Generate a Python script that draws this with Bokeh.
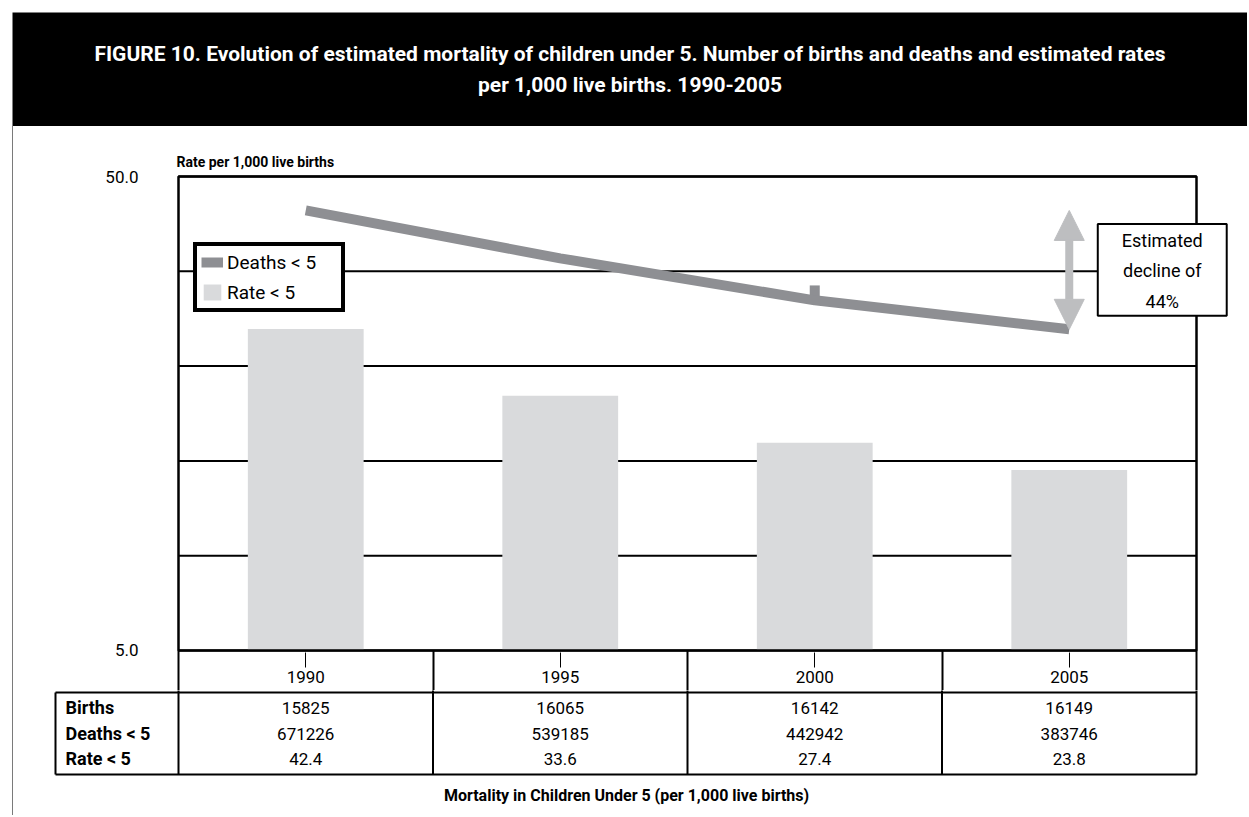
from bokeh.plotting import figure
from bokeh.models import (Range1d, LinearScale, FixedTicker, PrintfTickFormatter,
                          Legend, LegendItem, Arrow, NormalHead, Label, ColumnDataSource, Title)
from bokeh.layouts import column
from bokeh.embed import file_html
from bokeh.resources import INLINE
from bokeh.core.properties import value

# ---------------- data ----------------
years = ["1990", "1995", "2000", "2005"]
births = [15825, 16065, 16142, 16149]
deaths = [671226, 539185, 442942, 383746]
rates = [42.4, 33.6, 27.4, 23.8]
marker_years = ["2000"]
marker_rates = [27.4]
y_tick_values = [5.0, 50.0]
grid_values = [5.0, 7.92, 12.56, 19.91, 31.55, 50.0]
row_labels = ["Births", "Deaths < 5", "Rate < 5"]
title_text = ("FIGURE 10. Evolution of estimated mortality of children under 5. Number of births and deaths and estimated rates\n"
              "per 1,000 live births. 1990-2005")
axis_title = "Rate per 1,000 live births"
decline_text = "Estimated\ndecline of\n44%"
caption = "Mortality in Children Under 5 (per 1,000 live births)"
legend_line = "Deaths < 5"
legend_bar = "Rate < 5"

# ---------------- style ----------------
FONT = "Roboto"
W = 1247
LINE_C = "#8e8f93"
BAR_C = "#d9dadc"
ARROW_C = "#bdbec0"

n = len(years)
centers = [years.index(y) + 0.5 for y in years]      # category centres on the x scale
bounds = list(range(n + 1))                           # category boundaries
PX = 1 / 254.5                                        # x units per pixel

# ---------------- banner ----------------
head = figure(width=W, height=126, x_range=Range1d(0, 1), y_range=Range1d(0, 1),
              output_backend="svg", toolbar_location=None, frame_align=False,
              min_border_left=12, min_border_right=0, min_border_top=12, min_border_bottom=0)
head.axis.visible = False
head.grid.visible = False
head.outline_line_color = None
head.background_fill_color = "black"
head.add_layout(Label(x=0.5, y=0.5, text=title_text, text_align="center", text_baseline="middle",
                      text_color="white", text_font=FONT, text_font_style="bold",
                      text_font_size="21px", text_line_height=1.33))

# ---------------- chart ----------------
CW = W - 13
p = figure(width=CW, height=564, x_range=Range1d(-2 * PX, n + 44 * PX),
           y_range=Range1d(4.951, 50.49), y_axis_type="log",
           output_backend="svg", toolbar_location=None, frame_align=False,
           min_border_left=163, min_border_right=7, min_border_top=48, min_border_bottom=38)
p.extra_y_ranges = {"bars": Range1d(-0.264, 62.76)}
p.extra_y_scales = {"bars": LinearScale()}
p.grid.visible = False
p.outline_line_color = None

src = ColumnDataSource(dict(x=centers, year=years, rate=rates, deaths=deaths, births=births))

# horizontal grid lines across the plot box
p.segment(x0=[0] * len(grid_values), x1=[n] * len(grid_values), y0=grid_values, y1=grid_values,
          line_color="black", line_width=2)
bars = p.vbar(x="x", top="rate", bottom=0, width=0.455, source=src, y_range_name="bars",
              fill_color=BAR_C, line_color=None)
mk_x = [centers[years.index(y)] for y in marker_years]
p.quad(left=[x - 5 * PX for x in mk_x], right=[x + 5 * PX for x in mk_x],
       bottom=marker_rates, top=[r * 1.075 for r in marker_rates],
       fill_color=LINE_C, line_color=None)
line = p.line(x="x", y="rate", source=src, line_width=10, line_color=LINE_C)
p.quad(left=[0], right=[n], bottom=[y_tick_values[0]], top=[y_tick_values[-1]],
       fill_color=None, line_color="black", line_width=2.5)

# y axis
p.yaxis.ticker = FixedTicker(ticks=y_tick_values, minor_ticks=[])
p.yaxis.formatter = PrintfTickFormatter(format="%.1f")
p.yaxis.major_tick_line_color = None
p.yaxis.minor_tick_line_color = None
p.yaxis.axis_line_color = None
p.yaxis.major_label_standoff = 32
p.yaxis.major_label_text_font = FONT
p.yaxis.major_label_text_font_size = "17px"
p.yaxis.major_label_text_color = "black"

# x axis: year labels, centre ticks, and cell dividers (minor ticks)
p.xaxis.ticker = FixedTicker(ticks=centers, minor_ticks=bounds)
p.xaxis.major_label_overrides = {c: y for c, y in zip(centers, years)}
p.xaxis.axis_line_color = None
p.xaxis.major_tick_out = 15
p.xaxis.major_tick_in = 0
p.xaxis.major_tick_line_color = "black"
p.xaxis.major_tick_line_width = 1
p.xaxis.minor_tick_out = 38
p.xaxis.minor_tick_in = 2
p.xaxis.minor_tick_line_color = "black"
p.xaxis.minor_tick_line_width = 2
p.xaxis.major_label_standoff = -20
p.xaxis.major_label_text_font = FONT
p.xaxis.major_label_text_font_size = "17px"
p.xaxis.major_label_text_color = "black"

p.title.text = axis_title
p.title.align = "left"
p.title.text_font = FONT
p.title.text_font_style = "bold"
p.title.text_font_size = "14px"
p.title.text_color = "black"

legend = Legend(items=[LegendItem(label=legend_line, renderers=[line]),
                       LegendItem(label=legend_bar, renderers=[bars])],
                location=(17, 340), border_line_color="black", border_line_width=4,
                border_line_alpha=1.0,
                padding=4, spacing=6, margin=0, glyph_width=22, glyph_height=20,
                label_height=24, label_width=110, label_standoff=4,
                label_text_font=FONT, label_text_font_size="19px", label_text_color="black",
                background_fill_alpha=1.0)
p.add_layout(legend)

last_x = centers[-1]
arr_src = ColumnDataSource(dict(x=[last_x], y0=[rates[0]], y1=[rates[-1]]))
p.add_layout(Arrow(x_start="x", y_start="y0", x_end="x", y_end="y1", source=arr_src,
                   start=NormalHead(size=30, fill_color=ARROW_C, line_color=ARROW_C),
                   end=NormalHead(size=30, fill_color=ARROW_C, line_color=ARROW_C),
                   line_width=8, line_color=ARROW_C))

p.add_layout(Label(x=last_x, y=(rates[0] * rates[-1]) ** 0.5, x_offset=93,
                   text=decline_text, text_align="center", text_baseline="middle",
                   text_font=FONT, text_font_size="18px", text_line_height=1.45,
                   text_color="black",
                   border_line_color="black", border_line_width=2,
                   background_fill_color="white",
                   padding=dict(left=24, right=24, top=6, bottom=4)))

# ---------------- table ----------------
L = 123 * PX   # width of the row-label column
tbl = figure(width=CW, height=125, x_range=Range1d(-0.50295, n + 0.02358),
             y_range=Range1d(-0.146, 3.073), output_backend="svg", toolbar_location=None,
             frame_align=False,
             min_border_left=37, min_border_right=45, min_border_top=0, min_border_bottom=37)
tbl.axis.visible = False
tbl.grid.visible = False
tbl.outline_line_color = None

tbl.segment(x0=bounds, y0=[0] * len(bounds), x1=bounds, y1=[3.2] * len(bounds),
            line_color="black", line_width=2)
tbl.segment(x0=[-L], y0=[0], x1=[-L], y1=[3], line_color="black", line_width=2)
tbl.segment(x0=[-L, -L], y0=[3, 0], x1=[n, n], y1=[3, 0], line_color="black", line_width=2)

row_y = [2.45, 1.5, 0.58]
row_vals = [[str(v) for v in births], [str(v) for v in deaths], ["%.1f" % v for v in rates]]
for ry, vals in zip(row_y, row_vals):
    tbl.text(x=centers, y=[ry] * n, text=vals, text_align="center", text_baseline="middle",
             text_font=value(FONT), text_font_size="17px", text_color="black")
tbl.text(x=[-L + 10 * PX] * 3, y=row_y, text=row_labels, text_align="left",
         text_baseline="middle", text_font=value(FONT), text_font_size="18px",
         text_font_style="bold", text_color="black")

tbl.add_layout(Title(text=caption, align="center", text_font=FONT, text_color="black",
                     text_font_style="bold", text_font_size="16px"), "below")

body = column(p, tbl, spacing=0,
              styles={"margin-left": "12px", "border-left": "1px solid #7a7a7a"})
layout = column(head, body, spacing=0)
open("out.html", "w").write(file_html(layout, INLINE))
